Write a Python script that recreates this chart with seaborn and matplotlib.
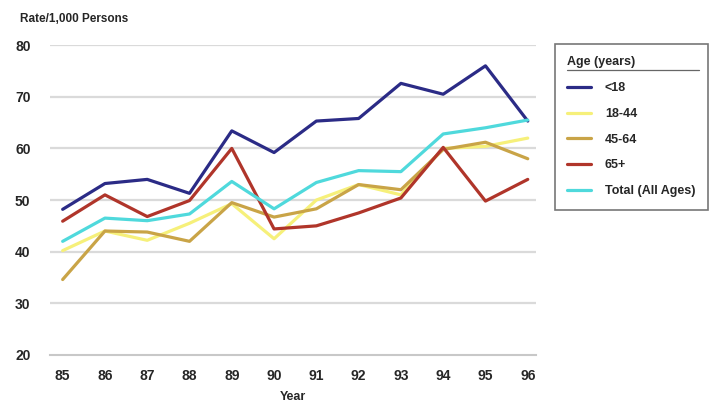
import pandas as pd
import matplotlib.pyplot as plt
import seaborn as sns
from matplotlib.lines import Line2D

# ======================
# 数据
# ======================
years = [85, 86, 87, 88, 89, 90, 91, 92, 93, 94, 95, 96]
groups = ['<18', '18-44', '45-64', '65+', 'Total (All Ages)']

rate_under18 = [48.2, 53.2, 54.0, 51.3, 63.4, 59.2, 65.3, 65.8, 72.6, 70.5, 76.0, 65.3]
rate_18_44 = [40.2, 44.0, 42.2, 45.5, 49.3, 42.5, 50.0, 53.0, 51.0, 60.0, 60.4, 62.0]
rate_45_64 = [34.6, 44.0, 43.8, 42.0, 49.5, 46.7, 48.3, 53.0, 52.0, 59.8, 61.2, 58.0]
rate_65plus = [45.9, 51.0, 46.8, 49.9, 60.0, 44.4, 45.0, 47.5, 50.4, 60.2, 49.8, 54.0]
rate_total = [42.0, 46.5, 46.0, 47.3, 53.6, 48.3, 53.4, 55.7, 55.5, 62.8, 64.0, 65.5]

colors = ['#2b2b86', '#f6f07a', '#c9a447', '#b0352a', '#4fd9dc']

df = pd.DataFrame({
    'Year': years * 5,
    'Rate': rate_under18 + rate_18_44 + rate_45_64 + rate_65plus + rate_total,
    'Age': [g for g in groups for _ in years],
})

# ======================
# 绘图
# ======================
sns.set_style('white')
plt.rcParams['font.family'] = ['Liberation Sans', 'DejaVu Sans']

fig = plt.figure(figsize=(7.14, 4.07), dpi=100)
ax = fig.add_axes([0.070, 0.128, 0.681, 0.761])

sns.lineplot(data=df, x='Year', y='Rate', hue='Age', hue_order=groups,
             palette=dict(zip(groups, colors)), linewidth=2.3, ax=ax,
             legend=True)

ax.set_xlim(84.7, 96.2)
ax.set_ylim(20, 80)
ax.set_xticks(years)
ax.set_xticklabels([str(y) for y in years], fontweight='bold', fontsize=10)
ax.set_yticks(range(20, 81, 10))
ax.set_yticklabels([str(v) for v in range(20, 81, 10)], fontweight='bold', fontsize=10)
for v in range(30, 81, 10):
    ax.axhline(v, color='#dadada', linewidth=1.6, zorder=0)

for s in ['top', 'right', 'left']:
    ax.spines[s].set_visible(False)
ax.spines['bottom'].set_color('#c8c8c8')
ax.spines['bottom'].set_linewidth(1.5)
ax.tick_params(axis='x', direction='in', length=7, color='#c0c0c0', width=1, pad=10)
ax.tick_params(axis='y', length=0, pad=14)

ax.set_xlabel('Year', fontweight='bold', fontsize=9, labelpad=6)
ax.set_ylabel('')
fig.text(0.028, 0.945, 'Rate/1,000 Persons', fontweight='bold', fontsize=8.5)

leg = ax.legend(title='Age (years)', loc='upper left',
                bbox_to_anchor=(0.777, 0.892), bbox_transform=fig.transFigure,
                frameon=True, fancybox=False,
                prop={'weight': 'bold', 'size': 9},
                title_fontproperties={'weight': 'bold', 'size': 9},
                labelspacing=1.1, handlelength=1.9, handletextpad=1.1,
                borderpad=1.0, borderaxespad=0)
leg._legend_box.align = 'left'
leg.get_frame().set_edgecolor('#555555')
leg.get_frame().set_linewidth(1.2)
for line in leg.get_lines():
    line.set_linewidth(2.3)

# 图例标题下划线
fig.canvas.draw()
inv = fig.transFigure.inverted()
tb = inv.transform(leg.get_title().get_window_extent())
fb = inv.transform(leg.get_frame().get_window_extent())
y_ul = tb[0][1] - 0.004
fig.add_artist(Line2D([tb[0][0], fb[1][0] - 0.012], [y_ul, y_ul],
                      color='#666666', linewidth=0.9))

fig.savefig('out.png', dpi=100)
